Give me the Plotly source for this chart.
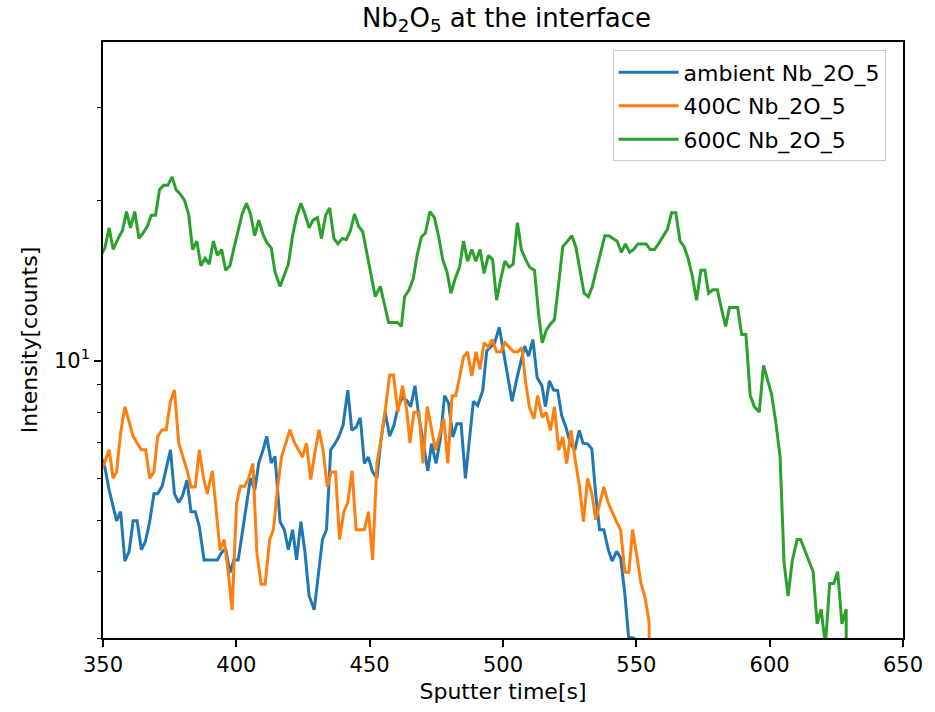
import plotly.graph_objects as go

# ---------------- data ----------------
t_ambient = [349.2, 350.7, 352.3, 353.8, 355.1, 356.6, 358.2, 359.8, 361.3, 362.8, 364.4, 365.9, 367.5, 369.1,
             370.5, 372.2, 373.7, 375.3, 376.8, 378.4, 379.8, 381.5, 383.0, 384.6, 386.1, 387.9, 389.8, 391.3,
             392.9, 394.5, 396.0, 397.6, 399.1, 400.7, 402.2, 403.8, 405.3, 406.9, 408.4, 410.0, 411.4, 413.1,
             414.5, 416.4, 418.0, 419.5, 421.1, 422.6, 424.2, 425.7, 427.3, 429.2, 430.7, 432.3, 433.8, 435.4,
             436.8, 438.4, 440.0, 441.8, 443.3, 444.9, 446.5, 448.0, 449.5, 451.1, 452.7, 454.2, 455.8, 457.5,
             459.1, 460.6, 462.3, 463.9, 465.4, 467.0, 468.4, 470.1, 471.8, 473.2, 474.9, 476.5, 478.1, 479.6,
             481.2, 482.7, 484.3, 485.9, 487.4, 488.9, 490.5, 492.4, 493.9, 495.5, 496.9, 498.6, 500.1, 501.7,
             503.4, 505.0, 506.6, 508.1, 509.6, 511.2, 512.8, 514.6, 515.9, 517.4, 519.0, 520.5, 522.0, 523.6,
             525.2, 526.9, 528.6, 530.0, 531.7, 533.3, 534.8, 536.2, 537.8, 539.5, 540.9, 542.6, 544.1, 545.7,
             547.1, 549.0, 550.5]
v_ambient = [6.6, 6.30, 5.70, 5.31, 4.99, 5.19, 4.19, 4.37, 4.99, 4.99, 4.40, 4.56, 4.97, 5.61,
             5.61, 5.80, 6.26, 6.79, 5.61, 5.40, 5.56, 5.95, 5.19, 5.19, 4.87, 4.21, 4.21, 4.21,
             4.21, 4.35, 4.42, 3.98, 4.21, 4.21, 4.70, 5.35, 6.00, 5.70, 6.41, 6.78, 7.20, 6.41,
             6.60, 4.97, 4.80, 4.40, 4.80, 4.21, 4.97, 4.37, 3.60, 3.39, 3.98, 4.60, 4.80, 6.79,
             6.95, 7.18, 7.55, 8.80, 7.39, 7.49, 7.80, 6.40, 6.58, 6.17, 6.00, 7.07, 7.99, 7.20,
             7.55, 8.17, 8.53, 8.41, 8.19, 8.97, 7.88, 7.05, 6.20, 6.97, 6.40, 7.12, 8.59, 8.31,
             7.18, 7.60, 7.60, 6.00, 7.07, 8.38, 8.23, 8.78, 10.43, 10.61, 10.81, 11.56, 10.45, 9.36,
             8.38, 9.16, 9.91, 10.65, 10.2, 10.96, 9.29, 8.97, 8.19, 9.16, 8.80, 8.78, 7.88, 7.49,
             6.99, 6.78, 7.39, 6.99, 6.97, 6.82, 5.58, 4.80, 4.80, 4.40, 4.19, 4.37, 4.25, 3.63,
             3.01, 3.0, 0]

t_400C = [349.2, 350.7, 352.3, 353.8, 355.1, 356.6, 358.2, 359.8, 361.3, 362.8, 364.4, 366.0, 367.5, 369.1,
          370.5, 372.2, 373.7, 375.3, 376.8, 378.4, 379.8, 381.5, 383.0, 384.6, 386.1, 387.7, 389.1, 391.0,
          392.5, 393.9, 395.4, 397.0, 398.4, 400.1, 401.5, 403.2, 404.6, 406.2, 407.7, 409.3, 410.8, 412.5,
          413.9, 415.5, 417.0, 418.7, 420.1, 421.7, 423.2, 424.8, 426.3, 427.9, 429.4, 431.0, 432.5, 434.1,
          435.6, 437.2, 438.7, 440.3, 441.8, 443.4, 444.9, 446.5, 448.0, 449.6, 451.1, 452.7, 454.2, 455.8,
          457.5, 458.9, 460.6, 462.3, 463.9, 465.1, 466.6, 468.5, 470.0, 471.6, 473.2, 474.7, 476.3, 477.8,
          479.3, 480.9, 482.3, 483.9, 485.2, 486.7, 488.3, 489.9, 491.4, 492.9, 494.5, 496.0, 497.6, 499.2,
          500.7, 502.3, 504.0, 505.6, 507.1, 508.4, 509.9, 511.6, 513.0, 514.7, 516.2, 517.8, 519.3, 520.9,
          522.4, 523.9, 525.5, 527.1, 528.6, 530.2, 531.7, 533.3, 534.8, 536.3, 537.8, 539.3, 540.9, 542.4,
          544.1, 545.7, 547.2, 548.6, 550.2, 551.7, 553.3, 554.8, 556.3]
v_400C = [6.2, 6.44, 6.79, 6.00, 6.17, 7.30, 8.19, 7.66, 7.20, 6.99, 6.79, 6.79, 6.00, 6.17,
          7.20, 7.41, 7.41, 8.38, 8.80, 6.99, 6.60, 6.22, 5.78, 5.78, 6.79, 6.00, 5.61, 6.20,
          5.19, 4.39, 4.60, 3.98, 3.39, 5.38, 5.80, 5.80, 6.00, 6.40, 4.34, 3.79, 3.79, 4.60,
          4.80, 5.78, 6.60, 7.07, 7.41, 7.02, 6.82, 6.58, 6.99, 5.97, 6.68, 7.41, 6.79, 5.78,
          6.17, 6.17, 4.60, 5.19, 5.40, 6.20, 4.80, 4.80, 4.80, 5.19, 4.21, 6.40, 7.07, 8.03,
          9.40, 9.40, 7.99, 8.97, 8.07, 6.99, 7.99, 7.99, 6.40, 8.19, 7.49, 6.78, 7.28, 7.77,
          6.40, 8.59, 8.59, 9.40, 10.16, 10.39, 9.36, 10.39, 9.63, 10.81, 10.61, 10.96, 10.39, 10.39,
          10.81, 10.61, 10.39, 10.39, 10.58, 9.16, 8.17, 7.77, 8.59, 7.82, 7.99, 7.39, 8.19, 6.78,
          7.18, 6.40, 7.39, 6.49, 5.83, 4.97, 6.00, 5.62, 5.01, 5.38, 5.78, 5.42, 5.19, 4.99,
          4.80, 3.99, 3.99, 4.80, 4.28, 3.81, 3.57, 3.21, 0]

t_600C = [349.2, 350.7, 352.3, 353.8, 355.7, 357.3, 358.8, 360.3, 361.9, 363.5, 365.0, 366.6, 368.1, 369.7,
          371.2, 372.7, 374.3, 375.9, 377.4, 379.0, 380.5, 382.1, 383.6, 385.2, 386.7, 388.3, 389.8, 391.4,
          392.9, 394.5, 396.0, 397.6, 399.1, 400.7, 402.2, 403.8, 405.3, 406.9, 408.4, 410.0, 411.4, 413.1,
          414.5, 416.4, 418.0, 419.5, 421.1, 422.6, 424.2, 425.7, 427.3, 428.8, 430.4, 431.9, 433.5, 435.0,
          436.6, 438.1, 439.7, 441.2, 442.8, 444.3, 445.9, 447.4, 449.0, 450.5, 452.1, 454.0, 455.5, 457.1,
          458.8, 460.4, 461.9, 463.1, 464.8, 466.4, 467.8, 469.4, 470.9, 472.6, 474.3, 475.9, 477.4, 479.0,
          480.5, 482.1, 483.7, 485.2, 486.7, 488.3, 489.8, 491.4, 492.9, 494.5, 496.1, 497.6, 499.1, 500.7,
          502.3, 503.8, 505.4, 506.9, 508.5, 510.0, 511.8, 513.3, 514.7, 516.2, 517.7, 519.3, 520.9, 522.4,
          524.2, 525.8, 527.3, 528.9, 530.4, 532.0, 533.5, 535.1, 536.6, 538.2, 539.7, 541.3, 542.8, 544.4,
          545.9, 547.5, 549.0, 550.6, 552.1, 553.7, 555.2, 556.8, 558.3, 559.9, 561.7, 563.2, 564.8, 566.4,
          567.9, 569.4, 570.9, 572.6, 574.2, 575.7, 577.1, 578.7, 580.4, 581.8, 583.5, 584.9, 586.5, 588.0,
          589.5, 591.1, 592.7, 594.2, 596.1, 597.7, 599.2, 600.7, 602.3, 603.9, 605.4, 606.9, 608.5, 610.3,
          611.6, 613.1, 614.7, 616.3, 617.8, 619.3, 620.9, 622.5, 624.0, 625.5, 627.1, 628.7, 630.2, 631.7,
          633.2, 634.7, 636.2, 637.7, 639.2]
v_600C = [15.8, 16.3, 17.8, 16.2, 17.0, 17.6, 19.1, 17.8, 19.1, 17.0, 17.4, 17.9, 18.8, 18.8,
          21.0, 21.4, 21.4, 22.2, 21.0, 20.6, 20.1, 18.9, 16.2, 16.8, 15.1, 15.6, 15.2, 16.8,
          15.8, 16.2, 14.8, 15.1, 16.3, 17.7, 18.9, 19.8, 18.9, 17.2, 18.4, 17.3, 16.7, 16.3,
          14.7, 13.8, 14.5, 15.2, 17.2, 18.7, 19.8, 18.9, 17.8, 18.4, 18.6, 17.0, 18.8, 19.4,
          17.0, 16.6, 17.0, 16.9, 17.6, 18.9, 17.9, 17.5, 15.9, 14.6, 13.2, 13.8, 12.7, 11.8,
          11.8, 11.8, 11.6, 13.2, 13.6, 14.3, 15.8, 17.1, 17.4, 19.1, 18.6, 17.1, 15.5, 14.7,
          13.4, 14.3, 15.0, 16.8, 15.4, 16.2, 15.4, 16.2, 14.6, 15.8, 15.5, 13.0, 14.2, 15.4,
          15.0, 15.2, 18.2, 16.2, 15.5, 15.0, 14.8, 12.3, 10.8, 11.4, 11.7, 11.95, 14.0, 16.4,
          16.8, 17.2, 16.4, 14.9, 13.4, 13.2, 13.8, 14.9, 16.0, 17.2, 17.2, 17.0, 16.8, 16.0,
          16.6, 16.0, 16.2, 16.6, 16.6, 16.6, 16.2, 16.2, 16.6, 17.1, 17.7, 19.0, 19.0, 16.8,
          16.4, 15.6, 14.5, 13.0, 14.8, 14.8, 13.4, 13.6, 13.6, 12.6, 11.6, 12.6, 12.6, 12.6,
          11.2, 11.2, 8.6, 8.2, 8.0, 9.8, 9.2, 8.65, 7.65, 6.6, 4.16, 3.6, 4.2, 4.6,
          4.6, 4.4, 4.19, 4.0, 3.19, 3.4, 2.9, 3.8, 3.8, 4.0, 3.19, 3.4, 0, 0,
          0, 0, 0, 3.0, 0]

series_names = ["ambient Nb_2O_5", "400C Nb_2O_5", "600C Nb_2O_5"]
series_colors = ["#1f77b4", "#ff7f0e", "#2ca02c"]

x_ticks = [350, 400, 450, 500, 550, 600, 650]
y_major = [10]
y_major_text = ["10<sup>1</sup>"]
y_minor = [3, 4, 5, 6, 7, 8, 9, 20, 30, 40]


def clip_nonpositive(vals):
    # mimic matplotlib's log-scale clipping of non-positive values
    return [v if v > 0 else 1e-8 for v in vals]


FONT = "DejaVu Sans"
fig = go.Figure()
for i, (t, v, name, col) in enumerate(zip([t_ambient, t_400C, t_600C], [v_ambient, v_400C, v_600C],
                                          series_names, series_colors)):
    fig.add_trace(go.Scatter(x=t, y=clip_nonpositive(v), mode="lines", name=name,
                             legendgroup=f"g{i}", line=dict(color=col, width=3)))

fig.update_layout(
    width=935, height=712,
    margin=dict(l=103, r=25, t=42, b=70),
    paper_bgcolor="white", plot_bgcolor="white",
    font=dict(family=FONT, size=21, color="black"),
    title=dict(text="Nb<sub>2</sub>O<sub>5</sub> at the interface", x=0.5417, xanchor="center",
               y=0.975, yanchor="middle", font=dict(size=26, family=FONT, color="black")),
    showlegend=True,
    legend=dict(x=0.637, y=0.986, xanchor="left", yanchor="top", traceorder="grouped",
                tracegroupgap=2, itemwidth=60,
                bgcolor="rgba(255,255,255,0.8)", bordercolor="#cccccc", borderwidth=1,
                font=dict(size=22, family=FONT, color="black")),
)
fig.update_xaxes(range=[350, 650], tickvals=x_ticks, ticks="outside", ticklen=7, tickwidth=1.6,
                 tickcolor="black", showline=True, linecolor="black", linewidth=1.6, mirror=True,
                 showgrid=False, zeroline=False,
                 title=dict(text="Sputter time[s]", font=dict(size=22, family=FONT), standoff=8))
fig.update_yaxes(type="log", range=[0.47712, 1.6007], tickvals=y_major, ticktext=y_major_text,
                 ticks="outside", ticklen=7, tickwidth=1.6, tickcolor="black",
                 showline=True, linecolor="black", linewidth=1.6, mirror=True,
                 showgrid=False, zeroline=False,
                 minor=dict(tickvals=y_minor, ticks="outside", ticklen=4, tickwidth=1.2,
                            tickcolor="black", showgrid=False),
                 title=dict(text="Intensity[counts]", font=dict(size=22, family=FONT), standoff=10))

fig.write_html("out.html")
